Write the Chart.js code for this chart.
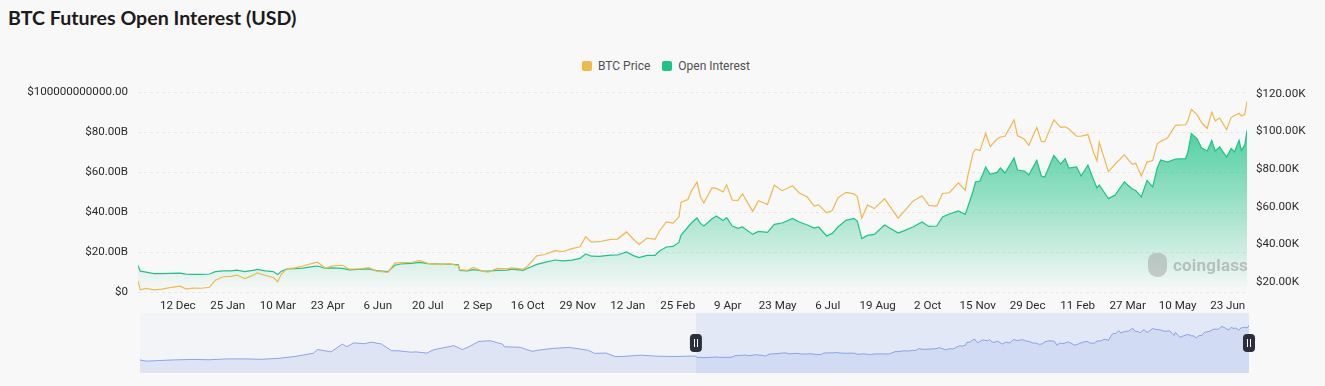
<!DOCTYPE html>
<html>
<head>
<meta charset="utf-8">
<script src="https://cdn.jsdelivr.net/npm/chart.js@4/dist/chart.umd.min.js"></script>
<style>
  html, body { margin:0; padding:0; background:#f8f8f8; width:1325px; height:386px; overflow:hidden; }
  #title { position:absolute; left:8px; top:6px; font:700 19.6px Lato, "Open Sans", sans-serif; color:#1b1b1b; white-space:nowrap; }
  #legend { position:absolute; top:59px; left:582px; font:12px Roboto, sans-serif; color:#505050; white-space:nowrap; }
  #legend span.item { display:inline-flex; align-items:center; margin-right:12px; }
  #legend span.sw { display:inline-block; width:10px; height:10px; border-radius:2px; margin-right:6px; }
  #main { position:absolute; left:0; top:0; }
  #nav { position:absolute; left:0; top:306px; }
  #wm { position:absolute; left:1148px; top:253px; display:flex; align-items:center; color:rgba(150,150,150,0.55); font:700 17px Roboto, sans-serif; letter-spacing:0.2px; }
  #wm .ico { width:19px; height:24px; border-radius:8px 8px 9px 9px; background:rgba(150,150,150,0.45); margin-right:6px; }
</style>
</head>
<body>
<div id="title">BTC Futures Open Interest (USD)</div>
<div id="legend"></div>
<canvas id="main" width="1325" height="386"></canvas>
<canvas id="nav" width="1325" height="80"></canvas>
<div id="wm"><div class="ico"></div><span>coinglass</span></div>
<script>
// ---------- DATA ----------
const dates = ['2022-11-07','2022-11-09','2022-11-14','2022-11-21','2022-11-28','2022-12-05','2022-12-14','2022-12-19','2022-12-26','2023-01-02',
'2023-01-09','2023-01-14','2023-01-21','2023-01-28','2023-02-02','2023-02-09','2023-02-16','2023-02-20','2023-02-27','2023-03-06',
'2023-03-10','2023-03-13','2023-03-18','2023-03-25','2023-04-01','2023-04-11','2023-04-14','2023-04-21','2023-04-26','2023-05-06',
'2023-05-12','2023-05-20','2023-05-29','2023-06-05','2023-06-15','2023-06-21','2023-06-26','2023-07-06','2023-07-13','2023-07-20',
'2023-07-31','2023-08-08','2023-08-16','2023-08-17','2023-08-24','2023-08-29','2023-09-06','2023-09-11','2023-09-19','2023-09-28',
'2023-10-02','2023-10-12','2023-10-16','2023-10-24','2023-10-31','2023-11-09','2023-11-16','2023-11-24','2023-12-01','2023-12-06',
'2023-12-11','2023-12-18','2023-12-28','2024-01-03','2024-01-11','2024-01-17','2024-01-22','2024-01-29','2024-02-05','2024-02-09',
'2024-02-15','2024-02-21','2024-02-26','2024-02-28','2024-03-05','2024-03-08','2024-03-13','2024-03-16','2024-03-19','2024-03-26',
'2024-03-30','2024-04-05','2024-04-08','2024-04-13','2024-04-18','2024-04-22','2024-05-01','2024-05-06','2024-05-14','2024-05-20',
'2024-05-27','2024-06-05','2024-06-11','2024-06-18','2024-06-24','2024-06-28','2024-07-05','2024-07-10','2024-07-15','2024-07-22',
'2024-07-29','2024-08-01','2024-08-05','2024-08-10','2024-08-16','2024-08-25','2024-09-06','2024-09-12','2024-09-19','2024-09-27',
'2024-10-03','2024-10-10','2024-10-15','2024-10-21','2024-10-29','2024-11-04','2024-11-06','2024-11-11','2024-11-13','2024-11-17',
'2024-11-22','2024-11-26','2024-12-02','2024-12-05','2024-12-09','2024-12-17','2024-12-20','2024-12-26','2024-12-30','2025-01-06',
'2025-01-10','2025-01-13','2025-01-21','2025-01-27','2025-01-31','2025-02-03','2025-02-10','2025-02-14','2025-02-20','2025-02-25',
'2025-02-28','2025-03-02','2025-03-10','2025-03-16','2025-03-24','2025-03-31','2025-04-03','2025-04-08','2025-04-13','2025-04-18',
'2025-04-22','2025-04-25','2025-05-01','2025-05-08','2025-05-17','2025-05-19','2025-05-22','2025-05-27','2025-05-31','2025-06-05',
'2025-06-09','2025-06-12','2025-06-16','2025-06-22','2025-06-26','2025-06-29','2025-07-03','2025-07-05','2025-07-08','2025-07-10'];

// BTC price, thousands of USD
const btcPriceK = [20.6,15.9,16.6,15.8,16.2,17.0,17.8,16.4,16.8,16.7,
17.2,20.9,22.8,23.0,23.7,21.8,23.5,24.8,23.5,22.4,
20.2,24.1,27.0,27.5,28.5,30.2,30.5,27.3,28.4,28.9,
26.8,26.9,27.7,25.8,25.1,30.0,30.3,30.5,31.4,29.9,
29.2,29.8,28.7,26.6,26.2,27.7,25.8,25.2,27.2,27.0,
27.5,26.8,28.5,33.9,34.6,36.7,36.2,37.7,38.7,44.0,
41.2,41.4,42.6,42.8,46.6,42.7,39.9,43.3,42.6,47.1,
51.9,51.3,54.5,62.4,63.8,68.3,73.1,65.3,62.0,70.0,
69.7,67.8,71.6,63.5,63.4,66.8,57.5,63.2,61.2,71.4,
68.5,71.1,67.3,65.1,60.3,61.0,56.7,58.0,64.7,67.6,
66.8,65.4,54.0,60.9,59.0,64.2,53.9,58.1,62.9,65.8,
60.7,60.3,67.0,67.4,72.7,68.8,75.6,88.7,90.5,89.8,
98.9,91.9,95.9,97.0,97.4,106.1,97.8,95.8,92.6,102.1,
94.6,94.5,106.1,102.1,102.4,101.4,97.4,97.5,98.3,88.7,
84.3,94.2,78.6,82.6,87.5,82.5,83.1,76.3,83.7,84.5,
93.4,94.7,96.5,103.2,103.5,105.6,111.7,108.9,104.6,101.5,
110.2,105.6,107.1,100.9,107.3,108.4,109.6,108.2,108.9,115.9];

// Open interest, billions of USD
const openInterestB = [13.3,10.4,9.9,9.2,9.2,9.3,9.4,8.9,8.8,8.8,
9.0,10.2,10.6,10.6,10.9,10.2,10.8,11.3,10.6,10.2,
8.8,10.3,11.6,11.7,11.9,12.8,13.0,11.8,12.1,11.8,
11.1,11.3,11.6,10.7,10.2,13.4,14.0,14.3,14.8,14.2,
13.9,14.0,13.6,10.8,10.6,11.2,10.5,10.4,10.8,10.9,
11.4,10.8,11.9,13.8,14.8,16.0,15.6,15.9,16.8,19.0,
17.9,17.8,18.4,18.5,20.0,18.2,17.2,18.3,18.3,20.5,
22.5,22.8,24.8,28.5,32.5,34.5,37.0,34.3,33.0,36.5,
38.0,35.8,37.2,33.0,31.8,32.5,28.8,30.3,29.8,33.8,
34.5,36.8,35.0,33.5,32.0,32.5,28.0,29.3,32.5,35.8,
36.8,35.5,26.7,28.3,28.8,33.5,29.5,30.8,32.5,35.0,
32.8,33.0,37.5,39.0,40.5,38.8,42.0,50.5,55.0,55.5,
62.5,58.8,59.8,62.0,59.5,67.0,61.0,60.5,58.5,65.8,
58.0,57.5,68.3,64.0,66.7,62.0,62.5,58.0,63.5,56.0,
52.0,53.5,46.7,48.5,55.0,51.5,50.8,47.5,55.8,52.5,
62.0,66.0,65.0,66.5,66.7,70.0,79.2,76.7,72.0,70.5,
75.8,70.5,72.5,67.5,71.7,70.0,75.8,70.8,73.3,80.8];

// Earlier BTC price history shown only in the range slider (thousands of USD)
const navDates = ['2020-03-01','2020-03-12','2020-04-01','2020-05-01','2020-06-01','2020-07-01','2020-08-01','2020-09-01','2020-10-01','2020-11-01',
'2020-12-01','2021-01-01','2021-01-08','2021-02-01','2021-02-21','2021-03-01','2021-03-13','2021-04-01','2021-04-13','2021-05-01',
'2021-05-19','2021-06-01','2021-06-22','2021-07-01','2021-07-20','2021-08-01','2021-09-06','2021-09-21','2021-10-01','2021-10-20',
'2021-11-09','2021-12-01','2021-12-04','2022-01-01','2022-01-22','2022-02-01','2022-03-01','2022-03-28','2022-04-01','2022-05-01',
'2022-05-12','2022-06-01','2022-06-18','2022-07-01','2022-08-01','2022-09-01','2022-10-01','2022-11-01'];
const navPriceK = [8.5,4.9,6.6,8.8,10.2,9.2,11.8,11.9,10.6,13.7,
19.7,29.4,40.8,33.5,57.5,49.6,61.2,58.7,63.5,57.8,
37.0,36.7,32.5,33.5,29.8,39.9,52.7,40.7,48.1,66.0,
67.6,57.2,49.4,47.7,35.1,38.7,44.4,47.1,46.3,38.5,
29.0,29.8,19.0,19.3,23.3,20.1,19.3,20.5];

const xTickDates = ['2022-12-12','2023-01-25','2023-03-10','2023-04-23','2023-06-06','2023-07-20','2023-09-02','2023-10-16','2023-11-29','2024-01-12','2024-02-25',
'2024-04-09','2024-05-23','2024-07-06','2024-08-19','2024-10-02','2024-11-15','2024-12-29','2025-02-11','2025-03-27','2025-05-10','2025-06-23'];
const xTickLabels = ['12 Dec','25 Jan','10 Mar','23 Apr','6 Jun','20 Jul','2 Sep','16 Oct','29 Nov','12 Jan','25 Feb',
'9 Apr','23 May','6 Jul','19 Aug','2 Oct','15 Nov','29 Dec','11 Feb','27 Mar','10 May','23 Jun'];
const leftTicks = [0,20,40,60,80,100];
const leftTickLabels = ['$0','$20.00B','$40.00B','$60.00B','$80.00B','$100000000000.00'];
const rightTicks = [20,40,60,80,100,120];
const rightTickLabels = ['$20.00K','$40.00K','$60.00K','$80.00K','$100.00K','$120.00K'];
const seriesNames = ['BTC Price','Open Interest'];
const rangeStart = '2022-11-07', rangeEnd = '2025-07-10', navStart = '2020-03-01';

// ---------- STYLE ----------
const ORANGE = '#efb94c', GREEN = '#1ec387';
const tickFont = { family:'Roboto, sans-serif', size:11.6 };
const tickColor = '#2a2a2a';

const toDay = s => Date.UTC(+s.slice(0,4), +s.slice(5,7)-1, +s.slice(8,10)) / 86400000;

// legend (HTML)
const lg = document.getElementById('legend');
[[seriesNames[0], ORANGE],[seriesNames[1], GREEN]].forEach(([n,c]) => {
  const it = document.createElement('span'); it.className='item';
  const sw = document.createElement('span'); sw.className='sw'; sw.style.background=c;
  it.appendChild(sw); it.appendChild(document.createTextNode(n)); lg.appendChild(it);
});

new Chart(document.getElementById('main'), {
  type:'line',
  data:{ datasets:[
    { label:seriesNames[0], yAxisID:'yPrice', data: dates.map((d,i)=>({x:toDay(d), y:btcPriceK[i]})),
      borderColor:ORANGE, borderWidth:1.2, pointRadius:0, fill:false, tension:0 },
    { label:seriesNames[1], yAxisID:'yOI', data: dates.map((d,i)=>({x:toDay(d), y:openInterestB[i]})),
      borderColor:GREEN, borderWidth:1.2, pointRadius:0, tension:0, fill:'origin',
      backgroundColor: (c) => {
        const ca = c.chart.chartArea; if (!ca) return 'rgba(30,195,135,0.3)';
        const g = c.chart.ctx.createLinearGradient(0, ca.top, 0, ca.bottom);
        g.addColorStop(0, 'rgba(30,195,135,0.95)');
        g.addColorStop(1, 'rgba(30,195,135,0.0)');
        return g;
      } }
  ]},
  options:{
    responsive:false, animation:false, devicePixelRatio:1,
    layout:{ padding:{ top:92, left:0, right:0, bottom:0 } },
    plugins:{ legend:{display:false}, tooltip:{enabled:false} },
    scales:{
      x:{ type:'linear', min:toDay(rangeStart), max:toDay(rangeEnd),
          grid:{display:false, drawTicks:false}, border:{display:false},
          afterFit:s=>{ s.height = 94; },
          afterBuildTicks:s=>{ s.ticks = xTickDates.map(d=>({value:toDay(d)})); },
          ticks:{ autoSkip:false, maxRotation:0, padding:7, font:tickFont, color:tickColor,
                  callback:(v,i)=>xTickLabels[i] } },
      yOI:{ position:'left', min:0, max:100,
          afterFit:s=>{ s.width = 138; },
          afterBuildTicks:s=>{ s.ticks = leftTicks.map(v=>({value:v})); },
          grid:{ color:'rgba(0,0,0,0.07)', drawTicks:false },
          border:{ display:false, dash:[3,3] },
          ticks:{ padding:10, font:tickFont, color:tickColor, callback:(v,i)=>leftTickLabels[i] } },
      yPrice:{ position:'right', min:14.7, max:120.9,
          afterFit:s=>{ s.width = 78; },
          afterBuildTicks:s=>{ s.ticks = rightTicks.map(v=>({value:v})); },
          grid:{ display:false, drawTicks:false }, border:{display:false},
          ticks:{ padding:9, font:tickFont, color:tickColor, callback:(v,i)=>rightTickLabels[i] } }
    }
  }
});

// ---------- range slider (navigator) ----------
const navAllDates = navDates.concat(dates);
const navAllPrice = navPriceK.concat(btcPriceK);
const sliderDeco = {
  id:'sliderDeco',
  beforeDatasetsDraw(chart){
    const {ctx, chartArea:a, scales:{x}} = chart;
    ctx.save();
    ctx.fillStyle = 'rgba(225,230,245,0.2)';
    ctx.fillRect(a.left, a.top, a.right-a.left, a.bottom-a.top);
    const x0 = x.getPixelForValue(toDay(rangeStart)), x1 = x.getPixelForValue(toDay(rangeEnd));
    ctx.fillStyle = 'rgba(140,170,240,0.16)';
    ctx.fillRect(x0, a.top, x1-x0, a.bottom-a.top);
    ctx.restore();
  },
  afterDatasetsDraw(chart){
    const {ctx, chartArea:a, scales:{x}} = chart;
    const yc = (a.top + a.bottom)/2;
    [toDay(rangeStart), toDay(rangeEnd)].forEach(v=>{
      const px = x.getPixelForValue(v);
      ctx.save();
      ctx.fillStyle = '#2b2f3b';
      const w=12, h=18, r=4, l=px-w/2, t=yc-h/2;
      ctx.beginPath();
      ctx.moveTo(l+r,t); ctx.lineTo(l+w-r,t); ctx.quadraticCurveTo(l+w,t,l+w,t+r);
      ctx.lineTo(l+w,t+h-r); ctx.quadraticCurveTo(l+w,t+h,l+w-r,t+h);
      ctx.lineTo(l+r,t+h); ctx.quadraticCurveTo(l,t+h,l,t+h-r);
      ctx.lineTo(l,t+r); ctx.quadraticCurveTo(l,t,l+r,t); ctx.fill();
      ctx.strokeStyle = '#ffffff'; ctx.lineWidth = 1;
      ctx.beginPath(); ctx.moveTo(Math.round(px)-1.5, yc-4); ctx.lineTo(Math.round(px)-1.5, yc+4);
      ctx.moveTo(Math.round(px)+1.5, yc-4); ctx.lineTo(Math.round(px)+1.5, yc+4); ctx.stroke();
      ctx.restore();
    });
  }
};
new Chart(document.getElementById('nav'), {
  type:'line',
  data:{ datasets:[{ data: navAllDates.map((d,i)=>({x:toDay(d), y:navAllPrice[i]})),
    borderColor:'rgba(125,150,225,0.85)', borderWidth:1, pointRadius:0, tension:0,
    fill:'start', backgroundColor:'rgba(140,165,230,0.2)' }] },
  options:{
    responsive:false, animation:false, devicePixelRatio:1,
    layout:{ padding:{ top:7, left:140, right:76, bottom:13 } },
    plugins:{ legend:{display:false}, tooltip:{enabled:false} },
    scales:{
      x:{ type:'linear', display:false, min:toDay(navStart), max:toDay(rangeEnd) },
      y:{ display:false, min:-31.6, max:153.3 }
    }
  },
  plugins:[sliderDeco]
});
</script>
</body>
</html>
